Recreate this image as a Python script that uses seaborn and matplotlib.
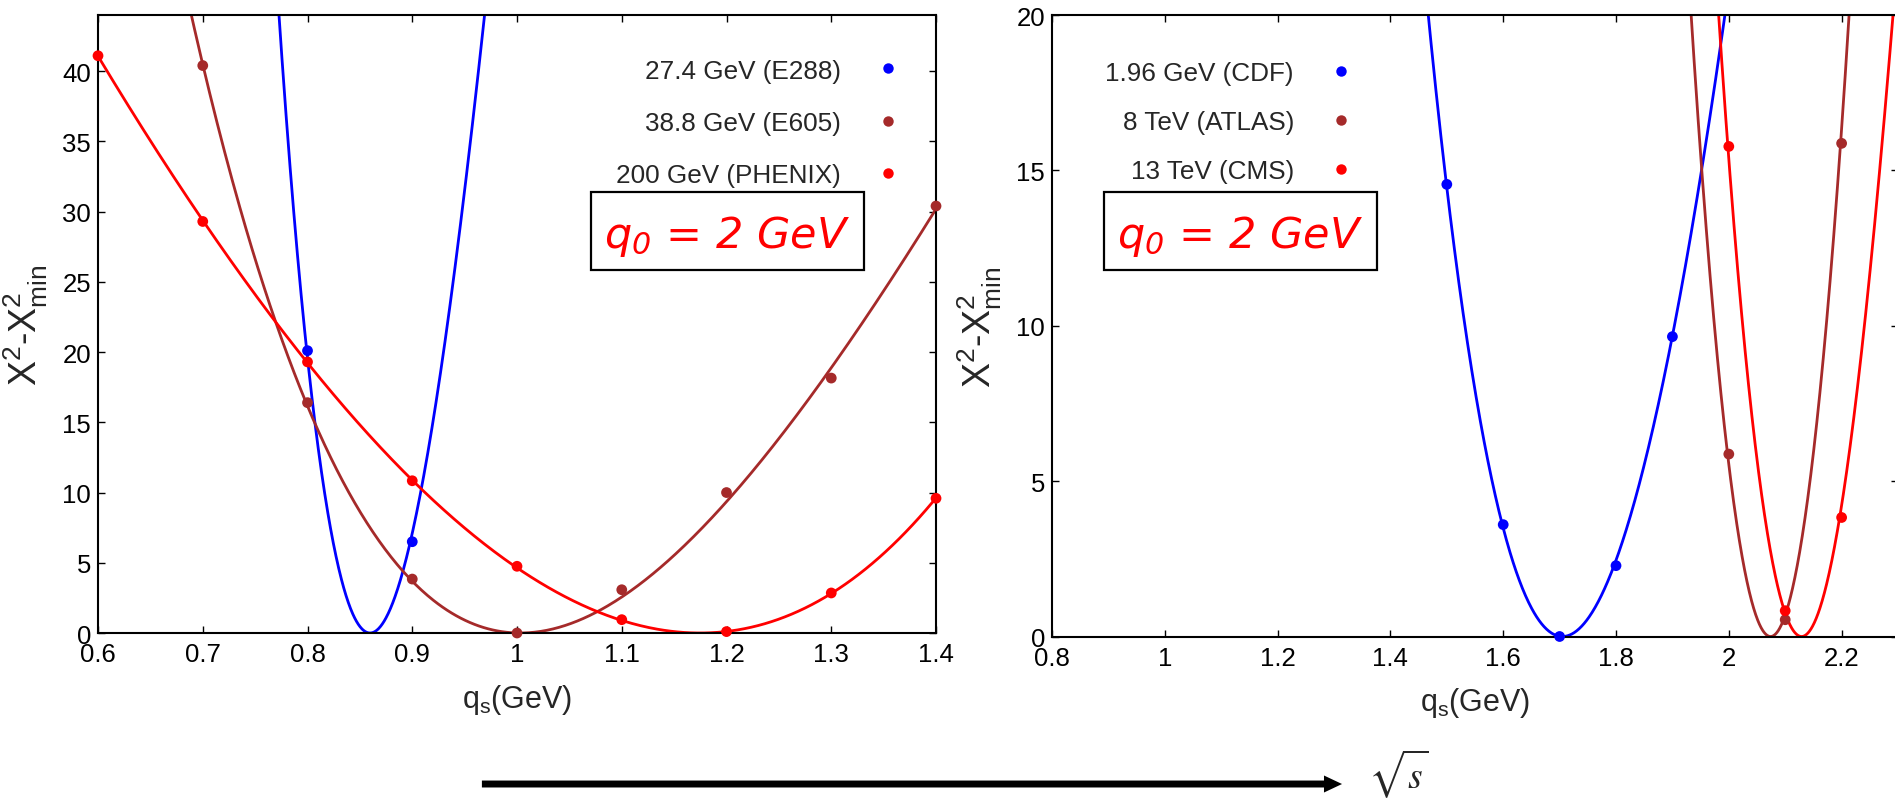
import numpy as np
import pandas as pd
import matplotlib
matplotlib.use('Agg')
import matplotlib.pyplot as plt
from matplotlib.lines import Line2D
from matplotlib.patches import FancyArrowPatch, Rectangle
from matplotlib.ticker import MultipleLocator, FuncFormatter
import seaborn as sns

# left panel: fixed target + RHIC
left_labels = ['27.4 GeV (E288)', '38.8 GeV (E605)', '200 GeV (PHENIX)']
qs_e288 = [0.8, 0.9]
chi_e288 = [20.1, 6.5]
qs_e605 = [0.7, 0.8, 0.9, 1.0, 1.1, 1.2, 1.3, 1.4]
chi_e605 = [40.4, 16.4, 3.84, 0.0, 3.08, 10.0, 18.15, 30.4]
qs_phenix = [0.6, 0.7, 0.8, 0.9, 1.0, 1.1, 1.2, 1.3, 1.4]
chi_phenix = [41.1, 29.3, 19.3, 10.84, 4.75, 0.95, 0.1, 2.85, 9.59]
# where each fit curve bottoms out, and where it leaves through the top of the frame
qmin_left = [0.8597, 1.003, 1.1747]
exit_left = [[0.7726, 0.969], [0.689], []]

# right panel: Tevatron + LHC
right_labels = ['1.96 GeV (CDF)', '8 TeV (ATLAS)', '13 TeV (CMS)']
qs_cdf = [1.5, 1.6, 1.7, 1.8, 1.9]
chi_cdf = [14.55, 3.6, 0.0, 2.28, 9.65]
qs_atlas = [2.0, 2.1, 2.2]
chi_atlas = [5.87, 0.54, 15.87]
qs_cms = [2.0, 2.1, 2.2]
chi_cms = [15.77, 0.83, 3.83]
qmin_right = [1.705, 2.074, 2.129]
exit_right = [[1.4667, 1.993], [1.933, 2.212], [1.981, 2.291]]

colors = ['#0000ff', '#a52a2a', '#ff0000']

sns.set_style('ticks')
plt.rcParams['font.family'] = ['Liberation Sans', 'DejaVu Sans']
plt.rcParams['mathtext.fontset'] = 'custom'
plt.rcParams['mathtext.rm'] = 'Liberation Sans'
plt.rcParams['mathtext.it'] = 'Liberation Sans:italic'
plt.rcParams['mathtext.bf'] = 'Liberation Sans:bold'
plt.rcParams['mathtext.default'] = 'regular'


def fit_curve(q, chi, q0, lo, hi):
    # chi2 - chi2min ~ (q - q0)^2 * (a + b dq + c dq^2), least squares
    q = np.asarray(q, float)
    chi = np.asarray(chi, float)
    dq = q - q0
    A = np.column_stack([dq**2, dq**3, dq**4])
    coef = np.linalg.lstsq(A, chi, rcond=None)[0]
    grid = np.linspace(lo, hi, 500)
    g = grid - q0
    return grid, g**2 * (coef[0] + coef[1] * g + coef[2] * g**2)


def fmt(v, pos):
    return f'{round(v, 3):g}'


def draw_panel(ax, series, labels, qmins, exits, xlim, ylim, xstep):
    for (qs, chi), q0, ex, col in zip(series, qmins, exits, colors):
        fq = list(qs) + ex
        fc = list(chi) + [ylim[1]] * len(ex)
        lo = max(min(fq) - 0.01, xlim[0])
        hi = min(max(fq) + 0.01, xlim[1])
        grid, curve = fit_curve(fq, fc, q0, lo, hi)
        sns.lineplot(x=grid, y=curve, color=col, lw=2.0, ax=ax,
                     estimator=None, sort=False, legend=False)

    dots = pd.concat([pd.DataFrame({'q': qs, 'chi': chi, 'set': lab})
                      for (qs, chi), lab in zip(series, labels)])
    sns.scatterplot(data=dots, x='q', y='chi', hue='set', hue_order=labels,
                    palette=dict(zip(labels, colors)), s=60, linewidth=0,
                    legend=False, ax=ax, zorder=3, clip_on=False)

    ax.set_xlim(*xlim)
    ax.set_ylim(*ylim)
    ax.xaxis.set_major_locator(MultipleLocator(xstep))
    ax.yaxis.set_major_locator(MultipleLocator(5))
    ax.xaxis.set_major_formatter(FuncFormatter(fmt))
    ax.yaxis.set_major_formatter(FuncFormatter(fmt))
    ax.tick_params(direction='in', top=True, right=True, length=5, width=1.0,
                   labelsize=18.5, pad=5, colors='black')
    ax.tick_params(axis='x', pad=6.5)
    for sp in ax.spines.values():
        sp.set_linewidth(1.5)
        sp.set_color('black')
    ax.set_xlabel('q$_\\mathrm{s}$(GeV)', fontsize=22)
    ax.set_ylabel('X$^2$-X$^2_{\\mathrm{min}}$', fontsize=27)


fig = plt.figure(figsize=(18.95, 8.03), dpi=100)
ax1 = fig.add_axes([0.05172, 0.21046, 0.44222, 0.76961])
ax2 = fig.add_axes([0.55515, 0.20610, 0.44644, 0.77397])

draw_panel(ax1, [(qs_e288, chi_e288), (qs_e605, chi_e605), (qs_phenix, chi_phenix)],
           left_labels, qmin_left, exit_left, (0.6, 1.4), (0, 44), 0.1)
draw_panel(ax2, [(qs_cdf, chi_cdf), (qs_atlas, chi_atlas), (qs_cms, chi_cms)],
           right_labels, qmin_right, exit_right, (0.8, 2.3), (0, 20), 0.2)

ax1.yaxis.set_label_coords(-0.057, 0.5)
ax2.yaxis.set_label_coords(-0.057, 0.5)
ax1.xaxis.set_label_coords(0.5, -0.079)
ax2.xaxis.set_label_coords(0.5, -0.078)

# legends: label text first, dot on the right
for ax, labels, anchor, spacing in [(ax1, left_labels, (0.9588, 0.9295), 1.09),
                                    (ax2, right_labels, (0.3576, 0.9256), 0.96)]:
    handles = [Line2D([], [], ls='none', marker='o', ms=7.5, mew=0, color=c)
               for c in colors]
    ax.legend(handles, labels, markerfirst=False, frameon=False, fontsize=18.8,
              loc='upper right', bbox_to_anchor=anchor, borderpad=0,
              borderaxespad=0, handlelength=1.0, handletextpad=1.32,
              labelspacing=spacing)

# q0 boxes
for ax, (x0, y0, x1, y1), tx, ty in [(ax1, (0.5883, 0.5874, 0.9141, 0.7136), 0.751, 0.6246),
                                     (ax2, (0.0615, 0.5897, 0.3842, 0.7152), 0.222, 0.6267)]:
    ax.add_patch(Rectangle((x0, y0), x1 - x0, y1 - y0, transform=ax.transAxes,
                           fill=False, ec='black', lw=1.6, zorder=4))
    ax.text(tx, ty, 'q$_0$ = 2 GeV', transform=ax.transAxes, ha='center',
            va='baseline', color='#ff0000', fontsize=31, fontstyle='italic',
            family=['DejaVu Sans'], math_fontfamily='dejavusans', zorder=5)

# energy arrow under the panels
arrow = FancyArrowPatch((0.2543, 0.0224), (0.7082, 0.0224), transform=fig.transFigure,
                        arrowstyle='simple,head_length=0.52,head_width=0.49,tail_width=0.2',
                        mutation_scale=25, color='black', lw=0, shrinkA=0, shrinkB=0)
fig.add_artist(arrow)
fig.text(0.7219, 0.004, r'$\sqrt{\mathit{s}}$', math_fontfamily='stix', fontsize=27,
         ha='left', va='bottom')

fig.savefig('out.png', dpi=100)
